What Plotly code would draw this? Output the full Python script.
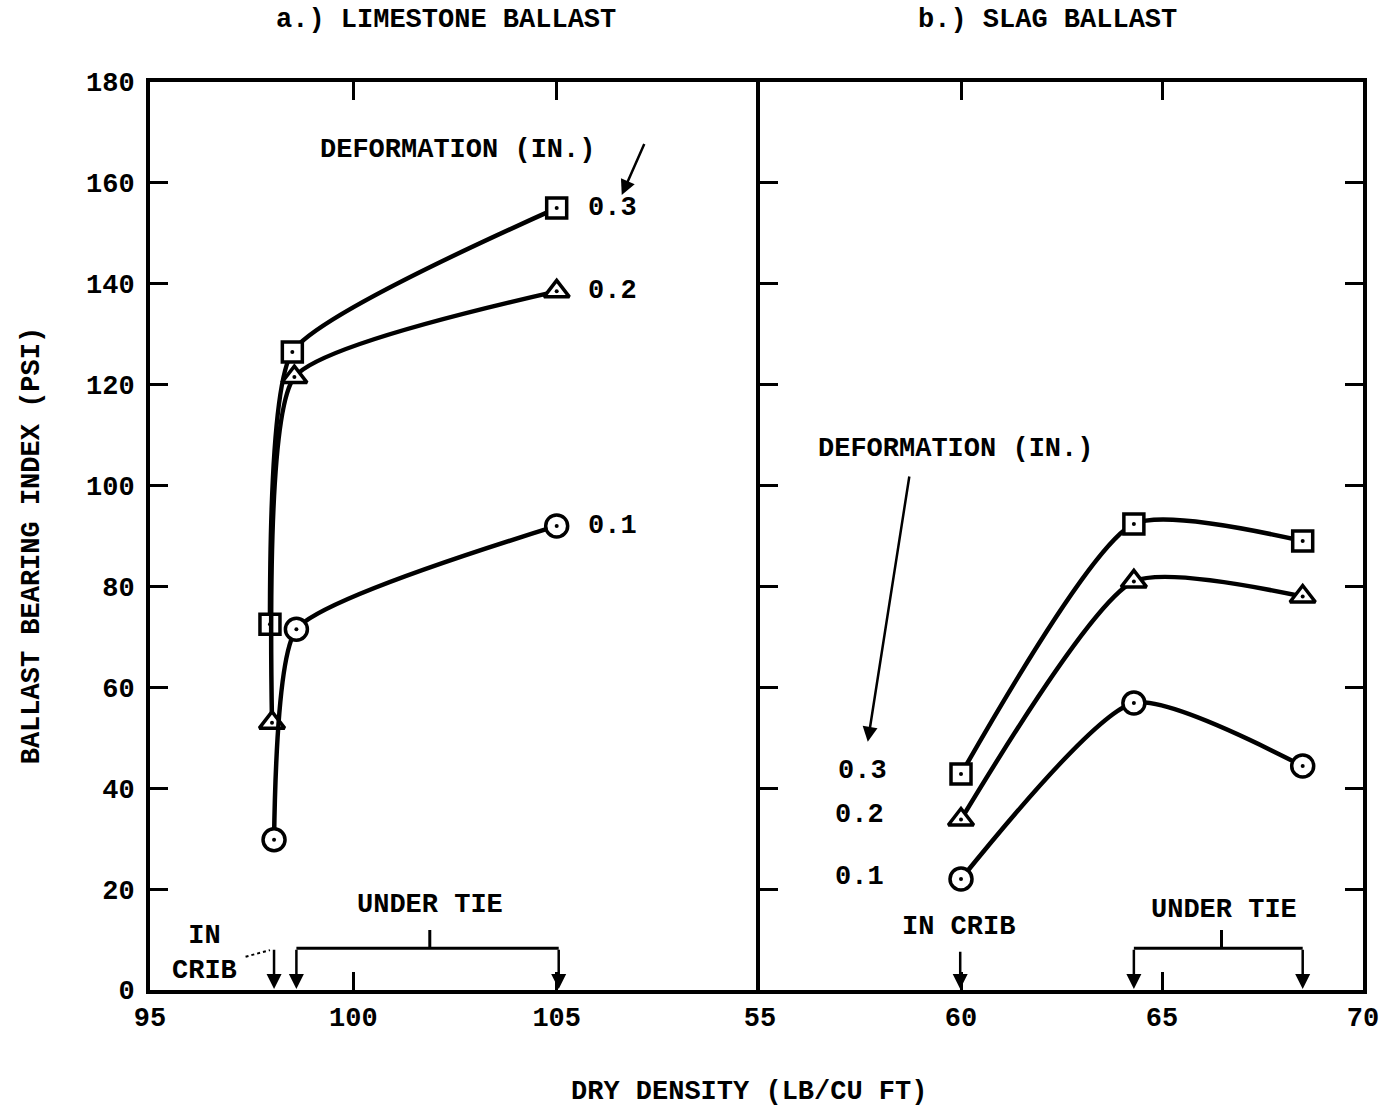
import plotly.graph_objects as go

# ---- Limestone ballast (left panel): dry density vs bearing index ----
lime_x_03 = [97.95, 98.5, 105.0]
lime_y_03 = [72.5, 126.5, 155.0]
lime_x_02 = [98.0, 98.55, 105.0]
lime_y_02 = [53.0, 121.5, 138.5]
lime_x_01 = [98.05, 98.6, 105.0]
lime_y_01 = [29.8, 71.5, 92.0]

# ---- Slag ballast (right panel) ----
slag_x = [60.0, 64.3, 68.5]
slag_y_03 = [42.8, 92.4, 89.0]
slag_y_02 = [33.8, 81.0, 78.0]
slag_y_01 = [22.0, 56.9, 44.4]

deform_labels = ["0.3", "0.2", "0.1"]
y_ticks = [0, 20, 40, 60, 80, 100, 120, 140, 160, 180]
lime_xticks = [95, 100, 105]
slag_xticks = [55, 60, 65, 70]

FONT = "Liberation Mono"
INK = "black"

fig = go.Figure()

series = [
    (lime_x_03, lime_y_03, "square", 20, 0.5, "x", "y"),
    (lime_x_02, lime_y_02, "triangle-up", 22, 0.5, "x", "y"),
    (lime_x_01, lime_y_01, "circle", 22, 0.5, "x", "y"),
    (slag_x, slag_y_03, "square", 20, 0.6, "x2", "y2"),
    (slag_x, slag_y_02, "triangle-up", 22, 0.6, "x2", "y2"),
    (slag_x, slag_y_01, "circle", 22, 0.6, "x2", "y2"),
]
for xs, ys, sym, size, smooth, xa, ya in series:
    fig.add_trace(go.Scatter(
        x=xs, y=ys, xaxis=xa, yaxis=ya, mode="lines+markers",
        line=dict(color=INK, width=4.5, shape="spline", smoothing=smooth),
        marker=dict(symbol=sym, size=size, color="white",
                    line=dict(color=INK, width=3.5)),
        showlegend=False, hoverinfo="skip"))
    # small centre dot inside each open symbol
    fig.add_trace(go.Scatter(
        x=xs, y=ys, xaxis=xa, yaxis=ya, mode="markers",
        marker=dict(symbol="circle", size=4, color=INK),
        showlegend=False, hoverinfo="skip"))

axis_common = dict(showgrid=False, zeroline=False, showline=True,
                   linecolor=INK, linewidth=4, ticks="inside", ticklen=18,
                   tickwidth=3, tickcolor=INK,
                   tickfont=dict(family=FONT, size=27, color=INK,
                                 weight="bold"))

fig.update_layout(
    width=1391, height=1108,
    margin=dict(l=150, r=24, t=82, b=118),
    paper_bgcolor="white", plot_bgcolor="white",
    xaxis=dict(domain=[0, 0.5029], range=[95, 110], tickvals=lime_xticks,
               mirror="ticks", anchor="y", **axis_common),
    xaxis2=dict(domain=[0.5029, 1], range=[55, 70], tickvals=slag_xticks,
                mirror="ticks", anchor="y2", **axis_common),
    yaxis=dict(domain=[0, 1], range=[0, 180], tickvals=y_ticks,
               mirror=False, anchor="x", ticklabelstandoff=6, **axis_common),
    yaxis2=dict(domain=[0, 1], range=[0, 180], tickvals=y_ticks,
                showticklabels=False, mirror="ticks", anchor="x2", **axis_common),
)

def text(x, y, s, xref="x", yref="y", xanchor="center", size=27, **kw):
    fig.add_annotation(x=x, y=y, xref=xref, yref=yref, text=s, showarrow=False,
                       xanchor=xanchor, yanchor="middle",
                       font=dict(family=FONT, size=size, color=INK,
                                 weight="bold"), **kw)

def arrow(x0, y0, x1, y1, xref="x", yref="y", width=2.5):
    fig.add_annotation(x=x1, y=y1, ax=x0, ay=y0, xref=xref, yref=yref,
                       axref=xref, ayref=yref, text="", showarrow=True,
                       arrowhead=2, arrowsize=1.2, arrowwidth=width,
                       arrowcolor=INK)

def seg(x0, y0, x1, y1, xref="x", yref="y", width=3, dash="solid"):
    fig.add_shape(type="line", x0=x0, y0=y0, x1=x1, y1=y1, xref=xref,
                  yref=yref, line=dict(color=INK, width=width, dash=dash))

# Panel headings and axis titles
text(0.244, 1.068, "a.) LIMESTONE BALLAST", xref="paper", yref="paper")
text(0.74, 1.068, "b.) SLAG BALLAST", xref="paper", yref="paper")
text(0.494, -0.112, "DRY DENSITY (LB/CU FT)", xref="paper", yref="paper")
text(-0.097, 0.489, "BALLAST BEARING INDEX (PSI)", xref="paper", yref="paper",
     textangle=-90)

# ---- Left panel annotations ----
text(102.57, 166.5, "DEFORMATION (IN.)")
arrow(107.17, 168.0, 106.6, 157.6)
for lab, yv in zip(deform_labels, [lime_y_03[-1], lime_y_02[-1], lime_y_01[-1]]):
    text(105.72, yv, lab, xanchor="left")

text(101.88, 16.9, "UNDER TIE")
seg(98.6, 8.3, 105.05, 8.3)
seg(101.88, 8.3, 101.88, 11.9)
arrow(98.6, 8.3, 98.6, 0.2)
arrow(105.05, 8.3, 105.05, 0.2)

text(96.35, 7.2, "IN<br>CRIB")
seg(97.35, 6.6, 97.95, 7.9, width=2, dash="dot")
arrow(98.05, 8.3, 98.05, 0.2)

# ---- Right panel annotations ----
text(59.86, 107.3, "DEFORMATION (IN.)", xref="x2", yref="y2")
arrow(58.72, 102.1, 57.68, 49.2, xref="x2", yref="y2")
for lab, xv, yv in zip(deform_labels, [57.55, 57.48, 57.48], [43.4, 34.7, 22.4]):
    text(xv, yv, lab, xref="x2", yref="y2")

text(59.93, 12.5, "IN CRIB", xref="x2", yref="y2")
arrow(59.98, 7.9, 59.98, 0.2, xref="x2", yref="y2")

text(66.55, 15.9, "UNDER TIE", xref="x2", yref="y2")
seg(64.3, 8.3, 68.5, 8.3, xref="x2", yref="y2")
seg(66.48, 8.3, 66.48, 11.9, xref="x2", yref="y2")
arrow(64.3, 8.3, 64.3, 0.2, xref="x2", yref="y2")
arrow(68.5, 8.3, 68.5, 0.2, xref="x2", yref="y2")

fig.write_html("out.html")
